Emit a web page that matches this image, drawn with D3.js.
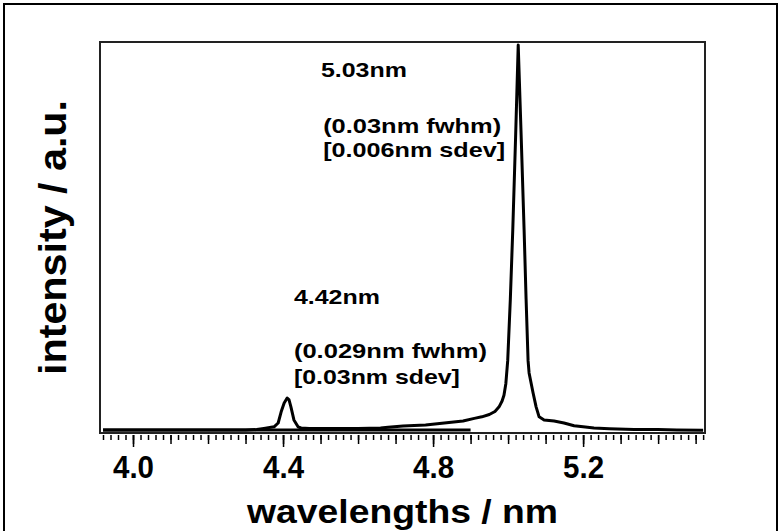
<!DOCTYPE html>
<html>
<head>
<meta charset="utf-8">
<script src="https://cdn.jsdelivr.net/npm/d3@7"></script>
<style>
  html, body { margin: 0; padding: 0; background: #fff; }
  svg { display: block; }
  text { font-family: "Liberation Sans", Arial, Helvetica, sans-serif; font-weight: bold; fill: #000; }
</style>
</head>
<body>
<svg id="chart" width="780" height="531"></svg>
<script>
// ---- data ----
const wavelengths = [3.92, 4.00, 4.10, 4.20, 4.30, 4.33, 4.349, 4.376, 4.387, 4.395, 4.403, 4.411, 4.416, 4.421, 4.429, 4.44, 4.448, 4.47, 4.50, 4.55, 4.60, 4.66, 4.68, 4.72, 4.78, 4.83, 4.88, 4.91, 4.93, 4.95, 4.965, 4.976, 4.984, 4.989, 4.994, 4.999, 5.006, 5.0125, 5.020, 5.027, 5.035, 5.0427, 5.048, 5.0533, 5.056, 5.0667, 5.0747, 5.0827, 5.096, 5.1227, 5.149, 5.176, 5.20, 5.229, 5.27, 5.336, 5.40, 5.45, 5.52];
const intensity   = [0.000, 0.000, 0.000, 0.000, 0.000, 0.001, 0.004, 0.008, 0.018, 0.047, 0.070, 0.083, 0.078, 0.060, 0.026, 0.008, 0.005, 0.004, 0.004, 0.004, 0.004, 0.005, 0.007, 0.010, 0.013, 0.018, 0.023, 0.030, 0.034, 0.040, 0.048, 0.060, 0.075, 0.090, 0.120, 0.180, 0.340, 0.520, 0.760, 1.000, 0.760, 0.520, 0.340, 0.180, 0.148, 0.096, 0.060, 0.034, 0.026, 0.023, 0.018, 0.011, 0.008, 0.005, 0.003, 0.001, 0.001, 0.000, -0.001];
const baselineX = [3.92, 4.90];
const baselineY = [0.0, 0.0];
const majorTicks = [4.0, 4.4, 4.8, 5.2];
const tickLabels = ["4.0", "4.4", "4.8", "5.2"];
const xTitle = "wavelengths / nm";
const yTitle = "intensity / a.u.";
const annoText = ["5.03nm", "(0.03nm fwhm)", "[0.006nm sdev]", "4.42nm", "(0.029nm fwhm)", "[0.03nm sdev]"];
const annoX    = [4.501, 4.507, 4.507, 4.429, 4.429, 4.429];
const annoY    = [0.917, 0.771, 0.709, 0.327, 0.187, 0.119];
const annoLen  = [86, 178, 182, 86, 193, 166];

// ---- layout ----
const svg = d3.select("#chart");
const box = { left: 100, right: 705, top: 42, bottom: 433 };
const x = d3.scaleLinear().domain([3.912, 5.525]).range([box.left, box.right]);
const y = d3.scaleLinear().domain([-0.008, 1.008]).range([box.bottom, box.top]);

// outer frame
svg.append("path")
  .attr("d", "M4,540 L4,4 L777,4 L777,540")
  .attr("fill", "none").attr("stroke", "#000").attr("stroke-width", 2);

// plot box
svg.append("rect")
  .attr("x", box.left).attr("y", box.top)
  .attr("width", box.right - box.left).attr("height", box.bottom - box.top)
  .attr("fill", "none").attr("stroke", "#222").attr("stroke-width", 2);

// ticks
const axisY = 435;
const minor = d3.range(0, 81).map(i => +(3.92 + i * 0.02).toFixed(2)).filter(v => v <= 5.52);
const mid = d3.range(0, 17).map(i => +(3.9 + i * 0.1).toFixed(1)).filter(v => v >= 3.92 && v <= 5.52);

function tickLayer(values, size) {
  const g = svg.append("g").attr("transform", `translate(0,${axisY})`)
    .call(d3.axisBottom(x).tickValues(values).tickSize(size).tickSizeOuter(0).tickFormat(""));
  g.select(".domain").remove();
  g.selectAll(".tick line").attr("stroke", "#000").attr("stroke-width", 1.5);
  return g;
}
tickLayer(minor, 5);
tickLayer(mid, 9);
const gMaj = svg.append("g").attr("transform", `translate(0,${axisY})`)
  .call(d3.axisBottom(x).tickValues(majorTicks).tickSize(12).tickSizeOuter(0)
    .tickFormat((d, i) => tickLabels[i]));
gMaj.select(".domain").remove();
gMaj.selectAll(".tick line").attr("stroke", "#000").attr("stroke-width", 1.5);
gMaj.selectAll(".tick text")
  .attr("y", 43).attr("dy", 0)
  .attr("textLength", 41).attr("lengthAdjust", "spacingAndGlyphs")
  .style("font-family", "'Liberation Sans', Arial, sans-serif")
  .style("font-weight", "bold").style("font-size", "31px").attr("fill", "#000");

// data lines
const line = d3.line().x(d => x(d[0])).y(d => y(d[1]));
svg.append("path")
  .datum(baselineX.map((v, i) => [v, baselineY[i]]))
  .attr("d", line).attr("fill", "none").attr("stroke", "#000").attr("stroke-width", 3);
svg.append("path")
  .datum(wavelengths.map((v, i) => [v, intensity[i]]))
  .attr("d", line).attr("fill", "none").attr("stroke", "#000")
  .attr("stroke-width", 3).attr("stroke-linejoin", "round");

// annotations
annoText.forEach((t, i) => {
  svg.append("text")
    .attr("x", x(annoX[i])).attr("y", y(annoY[i]))
    .attr("textLength", annoLen[i]).attr("lengthAdjust", "spacingAndGlyphs")
    .style("font-size", "21px").text(t);
});

// axis titles
svg.append("text")
  .attr("x", (box.left + box.right) / 2).attr("y", 523)
  .attr("text-anchor", "middle")
  .attr("textLength", 311).attr("lengthAdjust", "spacingAndGlyphs")
  .style("font-size", "33px").text(xTitle);

svg.append("text")
  .attr("transform", `translate(66,${(box.top + box.bottom) / 2}) rotate(-90)`)
  .attr("text-anchor", "middle")
  .attr("textLength", 275).attr("lengthAdjust", "spacingAndGlyphs")
  .style("font-size", "38px").text(yTitle);
</script>
</body>
</html>
